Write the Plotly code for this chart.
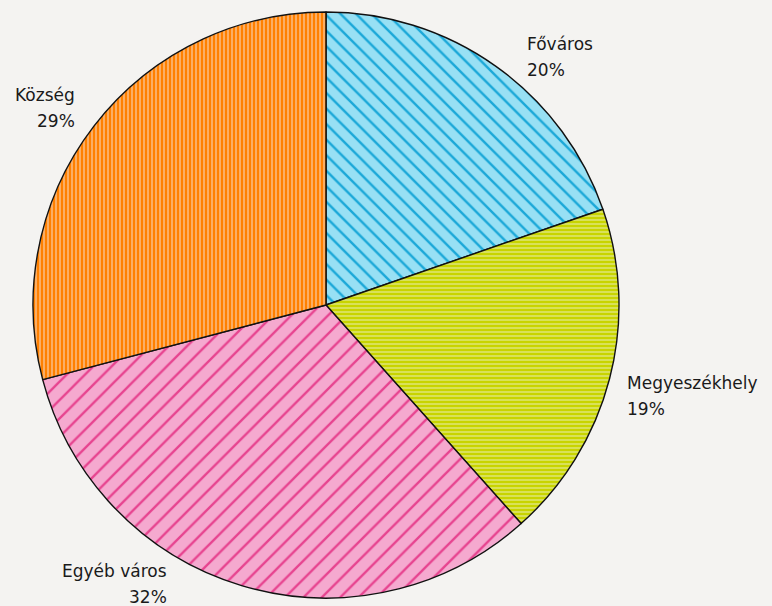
import plotly.graph_objects as go

labels = ["Főváros", "Megyeszékhely", "Egyéb város", "Község"]
values = [19.7, 18.7, 32.5, 29.1]
pct_text = ["20%", "19%", "32%", "29%"]

fg_colors = ["#1ba8d8", "#c8d400", "#e7438f", "#ff8000"]
bg_colors = ["#98e0f4", "#e3e98a", "#f5a9cf", "#f9c89b"]
shapes = ["\\", "-", "/", "|"]
sizes = [11, 4, 13, 4]
solidity = [0.22, 0.68, 0.18, 0.68]

W, H = 772, 606
CX, CY, R = 326, 305, 293

fig = go.Figure(go.Pie(
    labels=labels,
    values=values,
    sort=False,
    direction="clockwise",
    rotation=0,
    textinfo="none",
    hoverinfo="label+percent",
    marker=dict(
        colors=fg_colors,
        line=dict(color="#111111", width=1.4),
        pattern=dict(shape=shapes, size=sizes, solidity=solidity,
                     fgcolor=fg_colors, bgcolor=bg_colors, fillmode="replace"),
    ),
    domain=dict(x=[(CX - R) / W, (CX + R) / W],
                y=[(H - CY - R) / H, (H - CY + R) / H]),
    showlegend=False,
))

# label placement: (x, first-line centre y, anchor) in pixels
ann_pos = [
    (525, 44, "left"),
    (625, 383, "left"),
    (169, 571, "right"),
    (77, 95, "right"),
]
for (px, py, al), lab, pt in zip(ann_pos, labels, pct_text):
    for i, txt in enumerate([lab, pt]):
        fig.add_annotation(
            x=px / W, y=1 - (py + 26 * i) / H, xref="paper", yref="paper",
            text=txt, showarrow=False, align=al,
            xanchor=al, yanchor="middle",
            font=dict(family="DejaVu Sans", size=17, color="#1a1a1a"),
        )

fig.update_layout(
    width=W, height=H,
    margin=dict(l=0, r=0, t=0, b=0),
    paper_bgcolor="#f4f3f1",
    plot_bgcolor="#f4f3f1",
)

fig.write_html("out.html", config={"displayModeBar": False},
               post_script="document.body.style.margin='0';")
